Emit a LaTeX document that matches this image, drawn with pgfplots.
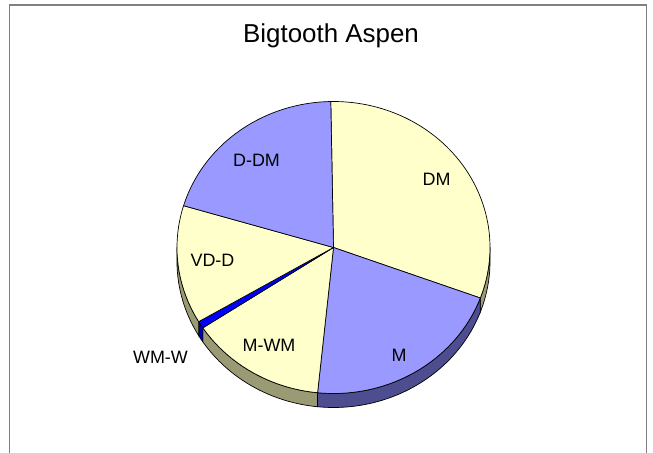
\documentclass[border=0pt]{standalone}
\usepackage{pgfplots}
\pgfplotsset{compat=1.18}
\usepackage{fontspec}
\setmainfont{Liberation Sans}
\definecolor{pieyel}{HTML}{FFFFCC}
\definecolor{pielav}{HTML}{9999FF}
\definecolor{pieblu}{HTML}{0000FF}
\definecolor{sideyel}{HTML}{9A9A74}
\definecolor{sidelav}{HTML}{4D4D8F}
\definecolor{sideblu}{HTML}{0000B0}
\definecolor{framegray}{HTML}{808080}
% Shares (percent), clockwise from 12 o'clock (start 91 deg):
% DM 30.9, M 21.0, M-WM 14.1, WM-W 0.8, VD-D 13.1, D-DM 20.1
% Slice boundaries (deg): 91, -20.24, -95.84(=264.16), 213.4, 210.52, 163.36
\begin{document}
\begin{tikzpicture}
\begin{axis}[width=653bp,height=453bp,scale only axis,
  xmin=0,xmax=653,ymin=0,ymax=453,hide axis,clip=false,
  every axis plot/.append style={samples=60,line width=0.7bp,draw=black}]
% frame
\draw[framegray,line width=1.5bp] (axis cs:9.5,0) -- (axis cs:9.5,448) -- (axis cs:646.5,448) -- (axis cs:646.5,0);
% ---- sides (visible front part) ----
\addplot[fill=sideyel,domain=-20.24:0] ({333.5+156.5*cos(x)},{205.5+146*sin(x)})
  -- (axis cs:490,191.5) arc[start angle=0,end angle=-20.24,x radius=156.5bp,y radius=146bp] -- cycle;
\addplot[fill=sidelav,domain=-95.84:-20.24] ({333.5+156.5*cos(x)},{205.5+146*sin(x)})
  -- (axis cs:480.34,140.99) arc[start angle=-20.24,end angle=-95.84,x radius=156.5bp,y radius=146bp] -- cycle;
\addplot[fill=sideyel,domain=213.4:264.16] ({333.5+156.5*cos(x)},{205.5+146*sin(x)})
  -- (axis cs:317.58,46.26) arc[start angle=264.16,end angle=213.4,x radius=156.5bp,y radius=146bp] -- cycle;
\addplot[fill=sideblu,domain=210.52:213.4,samples=5] ({333.5+156.5*cos(x)},{205.5+146*sin(x)})
  -- (axis cs:202.85,111.13) arc[start angle=213.4,end angle=210.52,x radius=156.5bp,y radius=146bp] -- cycle;
\addplot[fill=sideyel,domain=180:210.52] ({333.5+156.5*cos(x)},{205.5+146*sin(x)})
  -- (axis cs:198.68,117.35) arc[start angle=210.52,end angle=180,x radius=156.5bp,y radius=146bp] -- cycle;
% ---- top faces ----
\addplot[fill=pieyel,domain=-20.24:91] ({333.5+156.5*cos(x)},{205.5+146*sin(x)}) -- (axis cs:333.5,205.5) -- cycle;
\addplot[fill=pielav,domain=-95.84:-20.24] ({333.5+156.5*cos(x)},{205.5+146*sin(x)}) -- (axis cs:333.5,205.5) -- cycle;
\addplot[fill=pieyel,domain=213.4:264.16] ({333.5+156.5*cos(x)},{205.5+146*sin(x)}) -- (axis cs:333.5,205.5) -- cycle;
\addplot[fill=pieblu,domain=210.52:213.4,samples=5] ({333.5+156.5*cos(x)},{205.5+146*sin(x)}) -- (axis cs:333.5,205.5) -- cycle;
\addplot[fill=pieyel,domain=163.36:210.52] ({333.5+156.5*cos(x)},{205.5+146*sin(x)}) -- (axis cs:333.5,205.5) -- cycle;
\addplot[fill=pielav,domain=91:163.36] ({333.5+156.5*cos(x)},{205.5+146*sin(x)}) -- (axis cs:333.5,205.5) -- cycle;
% ---- labels ----
\node[anchor=base,font=\fontsize{26}{30}\selectfont] at (axis cs:331,410) {Bigtooth Aspen};
\begin{scope}[every node/.style={anchor=base,font=\fontsize{18}{21}\selectfont}]
\node at (axis cs:436.5,267) {DM};
\node at (axis cs:256.5,286.3) {D-DM};
\node at (axis cs:212.5,186.3) {VD-D};
\node at (axis cs:160.5,89.7) {WM-W};
\node at (axis cs:269,101.3) {M-WM};
\node at (axis cs:399,91) {M};
\end{scope}
\coordinate (ll) at (axis cs:0,0);
\coordinate (ur) at (axis cs:653,453);
\end{axis}
\pgfresetboundingbox
\path[use as bounding box] (ll) rectangle (ur);
\end{tikzpicture}
\end{document}
